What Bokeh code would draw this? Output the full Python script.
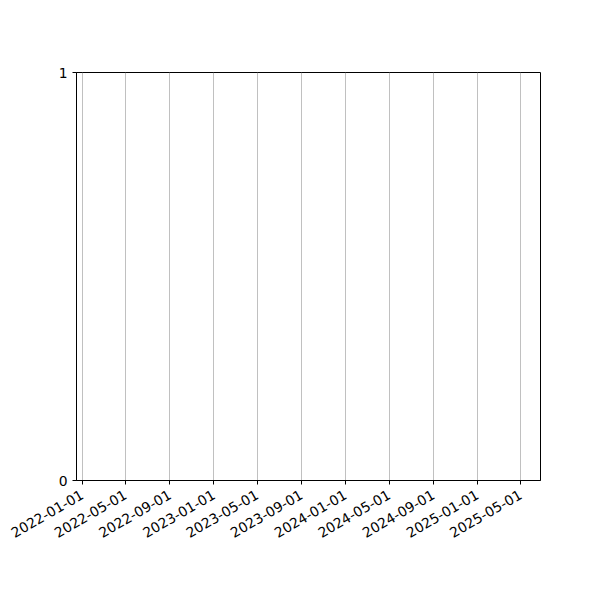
import math
from datetime import datetime
from bokeh.plotting import figure
from bokeh.models import Range1d, FixedTicker, DatetimeTickFormatter
from bokeh.embed import file_html
from bokeh.resources import INLINE

# Data (the reference chart is empty: only axes and ticks)
x_start = datetime(2021, 12, 16)
x_end = datetime(2025, 6, 25)
x_tick_dates = ["2022-01-01", "2022-05-01", "2022-09-01", "2023-01-01",
                "2023-05-01", "2023-09-01", "2024-01-01", "2024-05-01",
                "2024-09-01", "2025-01-01", "2025-05-01"]
y_ticks = [0, 1]

def to_ms(s):
    d = datetime.strptime(s, "%Y-%m-%d")
    return (d - datetime(1970, 1, 1)).total_seconds() * 1000.0

tick_ms = [to_ms(s) for s in x_tick_dates]

p = figure(width=592, height=592, x_axis_type="datetime",
           x_range=Range1d(x_start, x_end), y_range=Range1d(0, 1),
           output_backend="svg", toolbar_location=None,
           min_border_left=76, min_border_right=52,
           min_border_top=72, min_border_bottom=112)

p.background_fill_color = "white"
p.border_fill_color = "white"
p.outline_line_color = "black"
p.outline_line_width = 1

fmt = "%Y-%m-%d"
p.xaxis.ticker = FixedTicker(ticks=tick_ms)
p.xaxis.formatter = DatetimeTickFormatter(
    microseconds=fmt, milliseconds=fmt, seconds=fmt, minsec=fmt,
    minutes=fmt, hourmin=fmt, hours=fmt, days=fmt, months=fmt, years=fmt)
p.xaxis.major_label_orientation = math.pi / 6
p.yaxis.ticker = FixedTicker(ticks=y_ticks)

for ax in (p.xaxis, p.yaxis):
    ax.axis_line_color = "black"
    ax.axis_line_width = 1
    ax.major_tick_line_color = "black"
    ax.major_tick_in = 0
    ax.major_tick_out = 4
    ax.minor_tick_line_color = None
    ax.major_label_text_font = "DejaVu Sans"
    ax.major_label_text_font_size = "13.9px"
    ax.major_label_text_color = "black"
p.xaxis.major_label_standoff = 9
p.yaxis.major_label_standoff = 5

p.xgrid.ticker = FixedTicker(ticks=tick_ms)
p.xgrid.grid_line_color = "#b0b0b0"
p.xgrid.grid_line_width = 0.8
p.ygrid.grid_line_color = None

# invisible glyph so the plot has a renderer
p.scatter(x=[x_start], y=[0.5], alpha=0)

open("out.html", "w").write(file_html(p, INLINE))
